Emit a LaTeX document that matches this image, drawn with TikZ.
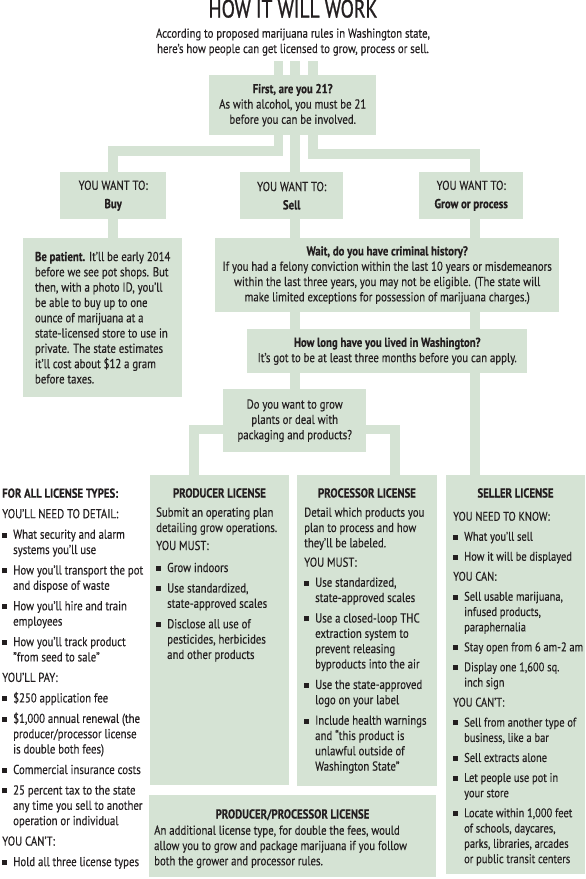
\documentclass[tikz,border=0pt]{standalone}
\usepackage{fontspec}
\setmainfont{PT Sans}[FakeStretch=0.83,FakeBold=0.3]
\newfontfamily\titlefont{PT Sans}[FakeStretch=0.78,FakeBold=1]
\usetikzlibrary{backgrounds}
\definecolor{leaf}{HTML}{D5E3D4}
\definecolor{ink}{HTML}{231F20}
\newcommand{\sqb}{\makebox[11pt][l]{\rule[1.2pt]{5pt}{5pt}}}
\newcommand{\ind}{\hspace*{11pt}}
\newcommand{\blk}{\\[5.2pt]}
\newcommand{\blkk}{\\[4.7pt]}
\tikzset{
  box/.style={fill=leaf, inner sep=0pt, anchor=north west},
  conn/.style={draw=leaf, line width=9.5pt, line join=miter},
  body/.style={font=\fontsize{13}{15.3}\selectfont, text=ink, inner sep=0pt},
  list/.style={body, align=left, anchor=north west},
  head/.style={body, font=\fontsize{13}{15.3}\selectfont\bfseries, anchor=base},
}

\begin{document}
\begin{tikzpicture}[x=1pt,y=-1pt]
  \useasboundingbox (0,0) rectangle (586,879);
  % heading
  \node[body, font=\fontsize{25}{28}\titlefont, anchor=base] (title) at (293,17.5) {HOW IT WILL WORK};
  \node[body, align=center, anchor=north] (intro) at (293,26.8)
    {\strut According to proposed marijuana rules in Washington state,\\
     here's how people can get licensed to grow, process or sell.};
  % column positions of the bars
  \coordinate (stubL) at (278.5,61);
  \coordinate (stubM) at (295,61);
  \coordinate (stubR) at (313,61);
  \coordinate (colS) at (295,0);
  \coordinate (colG) at (475,0);
  \coordinate (colP) at (194,0);
  \coordinate (colQ) at (395,0);
  % question boxes
  \node[box, body, align=center, minimum width=167pt, minimum height=60pt] (first) at (209,75)
    {\textbf{First, are you 21?}\\ As with alcohol, you must be 21\\ before you can be involved.};
  \node[box, body, align=center, minimum width=106pt, minimum height=47pt] (buy) at (60,172)
    {YOU WANT TO:\\[3pt] \textbf{Buy}};
  \node[box, body, align=center, minimum width=103pt, minimum height=47pt] (sell) at (240,172)
    {YOU WANT TO:\\[3pt] \textbf{Sell}};
  \node[box, body, align=center, minimum width=104pt, minimum height=47pt] (grow) at (419,172)
    {YOU WANT TO:\\[3pt] \textbf{Grow or process}};
  \node[box, body, align=left, minimum width=159pt, minimum height=159pt] (patient) at (23,238)
    {\textbf{Be patient.} It'll be early 2014\\ before we see pot shops. But\\ then, with a photo ID, you'll\\
     be able to buy up to one\\ ounce of marijuana at a\\ state-licensed store to use in\\
     private. The state estimates\\ it'll cost about \$12 a gram\\ before taxes.};
  \node[box, body, align=center, minimum width=344pt, minimum height=74pt] (crim) at (215,238)
    {\textbf{Wait, do you have criminal history?}\\
     If you had a felony conviction within the last 10 years or misdemeanors\\
     within the last three years, you may not be eligible. (The state will\\
     make limited exceptions for possession of marijuana charges.)};
  \node[box, body, align=center, minimum width=280pt, minimum height=44pt] (wash) at (247,329)
    {\textbf{How long have you lived in Washington?}\\
     It's got to be at least three months before you can apply.};
  \node[box, body, align=center, minimum width=143pt, minimum height=63pt] (dowant) at (223,389)
    {Do you want to grow\\ plants or deal with\\ packaging and products?};
  % license boxes
  \node[box, minimum width=139pt, minimum height=310pt] (prod) at (150,475) {};
  \node[box, minimum width=140pt, minimum height=311pt] (proc) at (297,475) {};
  \node[box, minimum width=139pt, minimum height=399pt] (sellr) at (446,475) {};
  \node[box, minimum width=287pt, minimum height=82pt] (both) at (149,795) {};
  % connectors
  \begin{scope}[on background layer]
    \draw[conn] (stubL) -- (stubL |- first.north);
    \draw[conn] (stubM) -- (stubM |- first.north);
    \draw[conn] (stubR) -- (stubR |- first.north);
    \draw[conn] (stubL |- first.south) -- ++(0,15.5) -| (buy.north);
    \draw[conn] (stubM |- first.south) -- (stubM |- sell.north);
    \draw[conn] (stubR |- first.south) -- ++(0,18.5) -| (colG |- grow.north);
    \draw[conn] (buy.south) -- (buy.south |- patient.north);
    \draw[conn] (colS |- sell.south) -- (colS |- crim.north);
    \draw[conn] (colG |- grow.south) -- (colG |- crim.north);
    \draw[conn] (colS |- crim.south) -- (colS |- wash.north);
    \draw[conn] (colG |- crim.south) -- (colG |- wash.north);
    \draw[conn] (colS |- wash.south) -- (colS |- dowant.north);
    \draw[conn] (colG |- wash.south) -- (colG |- sellr.north);
    \draw[conn] ([yshift=23pt]dowant.south) -| (colP |- prod.north);
    \draw[conn] ([yshift=23pt]dowant.south) -| (colQ |- proc.north);
  \end{scope}
  % rules for all
  \node[list] (alltypes) at (2,486.8)
    {\strut\textbf{FOR ALL LICENSE TYPES:}\blk
     YOU'LL NEED TO DETAIL:\blk
     \sqb What security and alarm\\ \ind systems you'll use\blk
     \sqb How you'll transport the pot\\ \ind and dispose of waste\blk
     \sqb How you'll hire and train\\ \ind employees\blk
     \sqb How you'll track product\\ \ind "from seed to sale"\blk
     YOU'LL PAY:\blk
     \sqb \$250 application fee\blk
     \sqb \$1,000 annual renewal (the\\ \ind producer/processor license\\ \ind is double both fees)\blk
     \sqb Commercial insurance costs\blk
     \sqb 25 percent tax to the state\\ \ind any time you sell to another\\ \ind operation or individual\blk
     YOU CAN'T:\blk
     \sqb Hold all three license types};
  % producer
  \node[head] (prodhead) at (219.5,497.5) {PRODUCER LICENSE};
  \node[list] (prodtext) at (156,505.8)
    {\strut Submit an operating plan\\ detailing grow operations.\\[2.7pt]
     YOU MUST:\\[6.7pt]
     \sqb Grow indoors\blk
     \sqb Use standardized,\\ \ind state-approved scales\blk
     \sqb Disclose all use of\\ \ind pesticides, herbicides\\ \ind and other products};
  % processor
  \node[head] (prochead) at (367,497.5) {PROCESSOR LICENSE};
  \node[list] (proctext) at (304,505.8)
    {\strut Detail which products you\\ plan to process and how\\ they'll be labeled.\\[4.1pt]
     YOU MUST:\blkk
     \sqb Use standardized,\\ \ind state-approved scales\blk
     \sqb Use a closed-loop THC\\ \ind extraction system to\\ \ind prevent releasing\\ \ind byproducts into the air\blk
     \sqb Use the state-approved\\ \ind logo on your label\blk
     \sqb Include health warnings\\ \ind and ``this product is\\ \ind unlawful outside of\\ \ind Washington State''};
  % seller
  \node[head] (sellhead) at (515.5,497.5) {SELLER LICENSE};
  \node[list, font=\fontsize{12.6}{15.3}\selectfont] (selltext) at (453,509.8)
    {\strut YOU NEED TO KNOW:\blkk
     \sqb What you'll sell\blkk
     \sqb How it will be displayed\blkk
     YOU CAN:\blkk
     \sqb Sell usable marijuana,\\ \ind infused products,\\ \ind paraphernalia\blkk
     \sqb Stay open from 6 am-2 am\blkk
     \sqb Display one 1,600 sq.\\ \ind inch sign\blkk
     YOU CAN'T:\blkk
     \sqb Sell from another type of\\ \ind business, like a bar\blkk
     \sqb Sell extracts alone\blkk
     \sqb Let people use pot in\\ \ind your store\blkk
     \sqb Locate within 1,000 feet\\ \ind of schools, daycares,\\ \ind parks, libraries, arcades\\ \ind or public transit centers};
  % producer/processor
  \node[head] (bothhead) at (292.5,818.5) {PRODUCER/PROCESSOR LICENSE};
  \node[list] (bothtext) at (154,823.8)
    {\strut An additional license type, for double the fees, would\\
     allow you to grow and package marijuana if you follow\\
     both the grower and processor rules.};
\end{tikzpicture}
\end{document}
